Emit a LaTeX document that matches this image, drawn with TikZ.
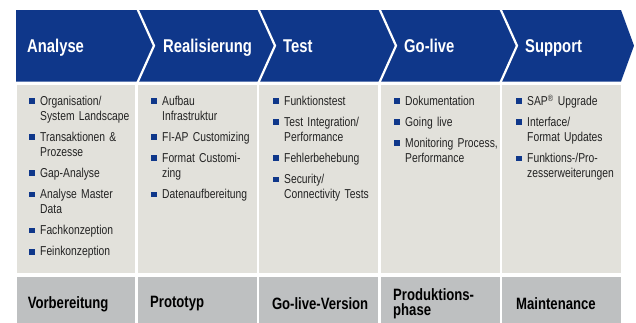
\documentclass[tikz,border=0pt]{standalone}
\usepackage{fontspec}
\setmainfont{Liberation Sans}[FakeStretch=0.8,WordSpace=0.8]
\usetikzlibrary{positioning}
\definecolor{sapblue}{RGB}{15,55,138}
\definecolor{panelgray}{RGB}{226,225,219}
\definecolor{footgray}{RGB}{190,192,193}
\definecolor{textgray}{RGB}{35,35,35}
\newcommand{\bul}{\strut\llap{\textcolor{sapblue}{\rule[1.2pt]{5.8pt}{5.8pt}}\hspace{5pt}}}

\begin{document}
\begin{tikzpicture}[x=1pt,y=-1pt,
  head node/.style={anchor=base west,inner sep=0,text=white,font=\fontsize{18.5}{20}\selectfont\bfseries},
  item node/.style={anchor=north west,inner sep=0,text width=100pt,align=left,text=textgray,font=\fontsize{12.9}{15}\selectfont,execute at begin node=\bul,execute at end node=\strut},
  foot node/.style={anchor=west,inner sep=0,align=left,text=black,font=\fontsize{16.4}{15}\selectfont\bfseries}]

\useasboundingbox (0,0) rectangle (636,322);

\fill[sapblue] (16,10) -- (621,10) -- (634,45.7) -- (621,81.5) -- (16,81.5) -- cycle;
\foreach \b in {137,258,379,500}
  \draw[white,line width=2.2pt] (\b,8) -- (\b+17,45.7) -- (\b,83.5);

\foreach \i in {0,...,4}{
  \fill[panelgray] (16.5+121.4*\i,85) rectangle ++(118.8,188);
  \fill[footgray] (16.5+121.4*\i,277) rectangle ++(118.8,46);
}

\node[head node] (h1) at (27,52.3) {Analyse};
\node[head node] (h2) at (163,52.3) {Realisierung};
\node[head node] (h3) at (283,52.3) {Test};
\node[head node] (h4) at (404,52.3) {Go-live};
\node[head node] (h5) at (525,52.3) {Support};

\node[item node] (a1) at (40,94.5) {Organisation/\\System Landscape};
\node[item node,below right=5.7pt and 0pt of a1.south west] (a2) {Transaktionen \&\\Prozesse};
\node[item node,below right=5.7pt and 0pt of a2.south west] (a3) {Gap-Analyse};
\node[item node,below right=5.7pt and 0pt of a3.south west] (a4) {Analyse Master\\Data};
\node[item node,below right=5.7pt and 0pt of a4.south west] (a5) {Fachkonzeption};
\node[item node,below right=5.7pt and 0pt of a5.south west] (a6) {Feinkonzeption};

\node[item node] (r1) at (162,94.5) {Aufbau\\Infrastruktur};
\node[item node,below right=5.7pt and 0pt of r1.south west] (r2) {FI-AP Customizing};
\node[item node,below right=5.7pt and 0pt of r2.south west] (r3) {Format Customi-\\zing};
\node[item node,below right=5.7pt and 0pt of r3.south west] (r4) {Datenaufbereitung};

\node[item node] (t1) at (284,94.5) {Funktionstest};
\node[item node,below right=5.7pt and 0pt of t1.south west] (t2) {Test Integration/\\Performance};
\node[item node,below right=5.7pt and 0pt of t2.south west] (t3) {Fehlerbehebung};
\node[item node,below right=5.7pt and 0pt of t3.south west] (t4) {Security/\\Connectivity Tests};

\node[item node] (g1) at (405,94.5) {Dokumentation};
\node[item node,below right=5.7pt and 0pt of g1.south west] (g2) {Going live};
\node[item node,below right=5.7pt and 0pt of g2.south west] (g3) {Monitoring Process,\\Performance};

\node[item node] (s1) at (527,94.5) {SAP\textsuperscript{\textregistered} Upgrade};
\node[item node,below right=5.7pt and 0pt of s1.south west] (s2) {Interface/\\Format Updates};
\node[item node,below right=5.7pt and 0pt of s2.south west] (s3) {Funktions-/Pro-\\zesserweiterungen};

\node[foot node] (f1) at (27.6,304) {Vorbereitung};
\node[foot node] (f2) at (150,304) {Prototyp};
\node[foot node] (f3) at (271.8,304) {Go-live-Version};
\node[foot node] (f4) at (393,304) {Produktions-\\phase};
\node[foot node] (f5) at (516,304) {Maintenance};
\end{tikzpicture}
\end{document}
